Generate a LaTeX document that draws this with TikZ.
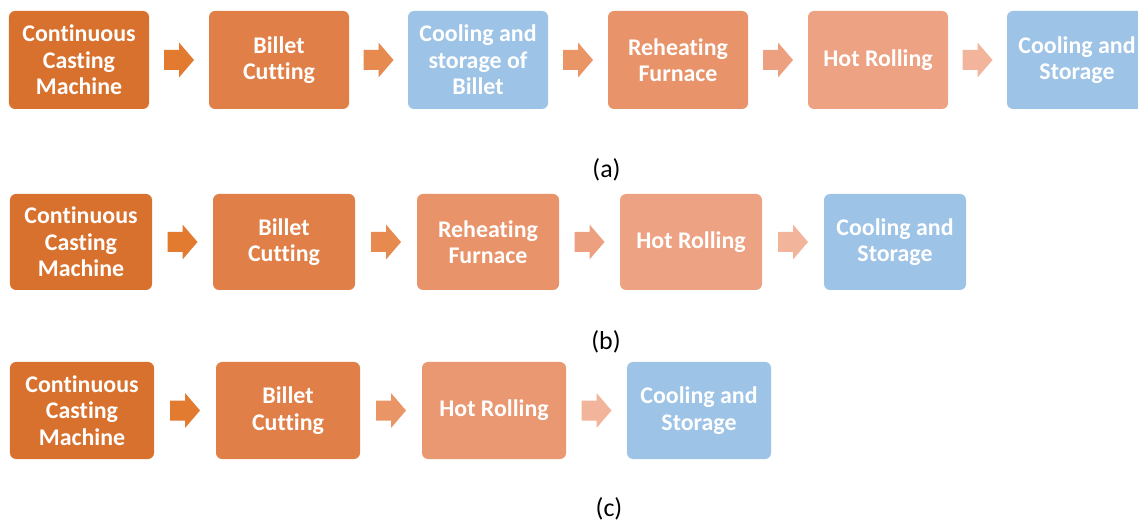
\documentclass[tikz,border=0pt]{standalone}
\usepackage{fontspec}
\setmainfont[Ligatures=NoCommon]{Carlito}
\definecolor{castc}{HTML}{D8712D}
\definecolor{cutc}{HTML}{E08048}
\definecolor{heatc}{HTML}{E8936A}
\definecolor{rollc}{HTML}{EDA383}
\definecolor{coolc}{HTML}{9DC3E6}
\definecolor{arA}{HTML}{E27A30}
\definecolor{arB}{HTML}{E68A50}
\definecolor{arC}{HTML}{EA9566}
\definecolor{arD}{HTML}{EDA07F}
\definecolor{arE}{HTML}{F2B49B}
\tikzset{
  stage/.style={rounded corners=6bp, minimum width=140bp, minimum height=98bp,
    inner sep=0pt, text=white, align=center,
    font=\fontsize{24}{26.5}\selectfont\bfseries},
  caption/.style={font=\fontsize{26}{30}\selectfont}
}
% block arrow centred in the gap between two stages
\newcommand\blockarrow[3]{%
  \path (#1.east) -- (#2.west) coordinate[midway] (#1-#2);
  \fill[#3] (#1-#2) ++(-15,-10) -- ++(15,0) -- ++(0,-7.5) -- ++(15,17.5)
     -- ++(-15,17.5) -- ++(0,-7.5) -- ++(-15,0) -- cycle;}
\begin{document}
\begin{tikzpicture}[x=1bp,y=-1bp]
\useasboundingbox (0,0) rectangle (1138,521);
\clip (0,0) rectangle (1138,521);
% (a) route with cooling and storage of the billet
\node[stage, fill=castc] (a1) at (79,60) {Continuous\\Casting\\Machine};
\node[stage, fill=cutc]  (a2) at (279,60) {Billet\\Cutting};
\node[stage, fill=coolc] (a3) at (478,60) {Cooling and\\storage of\\Billet};
\node[stage, fill=heatc] (a4) at (678,60) {Reheating\\Furnace};
\node[stage, fill=rollc] (a5) at (878,60) {Hot Rolling};
\node[stage, fill=coolc] (a6) at (1077,60) {Cooling and\\Storage};
\blockarrow{a1}{a2}{arA}
\blockarrow{a2}{a3}{arB}
\blockarrow{a3}{a4}{arC}
\blockarrow{a4}{a5}{arD}
\blockarrow{a5}{a6}{arE}
\node[caption] (la) at (606.5,170) {(a)};
% (b) hot charging straight into the reheating furnace
\begin{scope}[stage/.append style={minimum width=142bp, minimum height=96bp}]
\node[stage, fill=castc] (b1) at (81,242) {Continuous\\Casting\\Machine};
\node[stage, fill=cutc]  (b2) at (284,242) {Billet\\Cutting};
\node[stage, fill=heatc] (b3) at (488,242) {Reheating\\Furnace};
\node[stage, fill=rollc] (b4) at (691,242) {Hot Rolling};
\node[stage, fill=coolc] (b5) at (895,242) {Cooling and\\Storage};
\end{scope}
\blockarrow{b1}{b2}{arA}
\blockarrow{b2}{b3}{arB}
\blockarrow{b3}{b4}{arD}
\blockarrow{b4}{b5}{arE}
\node[caption] (lb) at (606,342) {(b)};
% (c) direct rolling
\begin{scope}[stage/.append style={minimum width=144bp, minimum height=97bp}]
\node[stage, fill=castc] (c1) at (82,410.5) {Continuous\\Casting\\Machine};
\node[stage, fill=cutc]  (c2) at (288,410.5) {Billet\\Cutting};
\node[stage, fill=heatc!70!rollc] (c3) at (494,410.5) {Hot Rolling};
\node[stage, fill=coolc] (c4) at (699,410.5) {Cooling and\\Storage};
\end{scope}
\blockarrow{c1}{c2}{arA}
\blockarrow{c2}{c3}{arC}
\blockarrow{c3}{c4}{arE}
\node[caption] (lc) at (609,509) {(c)};
\end{tikzpicture}
\end{document}
